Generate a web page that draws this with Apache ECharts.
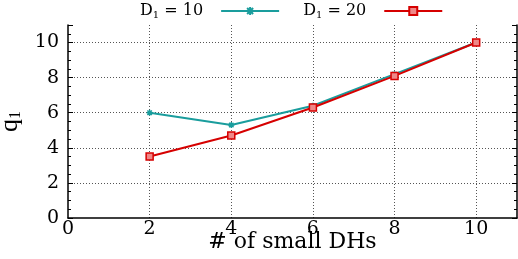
<!DOCTYPE html>
<html>
<head>
<meta charset="utf-8">
<script src="https://cdn.jsdelivr.net/npm/echarts@6/dist/echarts.min.js"></script>
<style>
  html, body { margin: 0; padding: 0; background: #fff; }
  #chart { width: 518px; height: 259px; }
</style>
</head>
<body>
<div id="chart"></div>
<script>
  const smallDHs = [2, 4, 6, 8, 10];
  const q1D10 = [6.0, 5.3, 6.4, 8.2, 10.0];
  const q1D20 = [3.5, 4.7, 6.3, 8.1, 10.0];

  const serif = 'DejaVu Serif';
  const rich = {
    a: { fontFamily: serif, fontSize: 16, color: '#000' },
    s: { fontFamily: serif, fontSize: 10, color: '#000', verticalAlign: 'bottom', padding: [8, 0, 0, 0] },
    g: { width: 13 }
  };

  const chart = echarts.init(document.getElementById('chart'));

  const dotted = { show: true, showMinLine: false, showMaxLine: false, lineStyle: { color: '#555', type: [1, 2], width: 1 } };

  chart.setOption({
    animation: false,
    backgroundColor: '#fff',
    grid: { left: 68, right: 1, top: 25, bottom: 41, outerBoundsMode: 'none' },
    legend: {
      top: 1,
      left: 136,
      align: 'right',
      itemWidth: 58,
      itemHeight: 10,
      itemGap: 23,
      backgroundColor: '#fff',
      padding: [2, 4, 4, 4],
      formatter: (name) => name === 'D10' ? '{a|D}{s|1}{a| = 10}{g|}' : '{a|D}{s|1}{a| = 20}{g|}',
      textStyle: { rich: rich },
      data: ['D10', 'D20']
    },
    xAxis: {
      type: 'value',
      min: 0, max: 11, interval: 2,
      name: '# of small DHs',
      nameLocation: 'middle',
      nameGap: 13,
      nameMoveOverlap: false,
      nameTextStyle: { fontFamily: serif, fontSize: 22, color: '#000' },
      axisLine: { lineStyle: { color: '#000', width: 1.5 } },
      axisTick: { show: false },
      axisLabel: { fontFamily: serif, fontSize: 19, color: '#000', margin: 2, showMaxLabel: false },
      splitLine: dotted
    },
    yAxis: [{
      type: 'value',
      min: 0, max: 11, interval: 2,
      name: '{q|q}{s|1}',
      nameLocation: 'middle',
      nameRotate: 90,
      nameGap: 44,
      nameMoveOverlap: false,
      nameTextStyle: { rich: {
        q: { fontFamily: 'Liberation Serif', fontSize: 26, color: '#000' },
        s: { fontFamily: 'Liberation Serif', fontSize: 16, color: '#000', padding: [12, 0, 0, 0] }
      } },
      axisLine: { show: true, lineStyle: { color: '#000', width: 1.5 } },
      axisTick: { show: true, inside: true, length: 5, lineStyle: { color: '#000' } },
      minorTick: { show: true, splitNumber: 4, length: 3, lineStyle: { color: '#000' } },
      axisLabel: { fontFamily: serif, fontSize: 19, color: '#000', margin: 9, showMaxLabel: false },
      splitLine: dotted
    }, {
      type: 'value',
      position: 'right',
      min: 0, max: 11, interval: 2,
      axisLine: { show: true, lineStyle: { color: '#000', width: 1.5 } },
      axisTick: { show: true, inside: true, length: 5, lineStyle: { color: '#000' } },
      minorTick: { show: true, splitNumber: 4, length: 3, lineStyle: { color: '#000' } },
      axisLabel: { show: false },
      splitLine: { show: false }
    }],
    series: [{
      name: 'D10',
      type: 'line',
      data: smallDHs.map((x, i) => [x, q1D10[i]]),
      symbol: 'path://M0,4L8,4M4,0L4,8M1,1L7,7M7,1L1,7',
      symbolSize: 6,
      lineStyle: { color: '#1a9d9d', width: 2 },
      itemStyle: { color: '#1a9d9d', borderColor: '#1a9d9d', borderWidth: 1.5 }
    }, {
      name: 'D20',
      type: 'line',
      data: smallDHs.map((x, i) => [x, q1D20[i]]),
      symbol: 'rect',
      symbolSize: 7,
      lineStyle: { color: '#d60000', width: 2 },
      itemStyle: { color: '#ee8888', borderColor: '#d60000', borderWidth: 1.5 }
    }]
  });
</script>
</body>
</html>
